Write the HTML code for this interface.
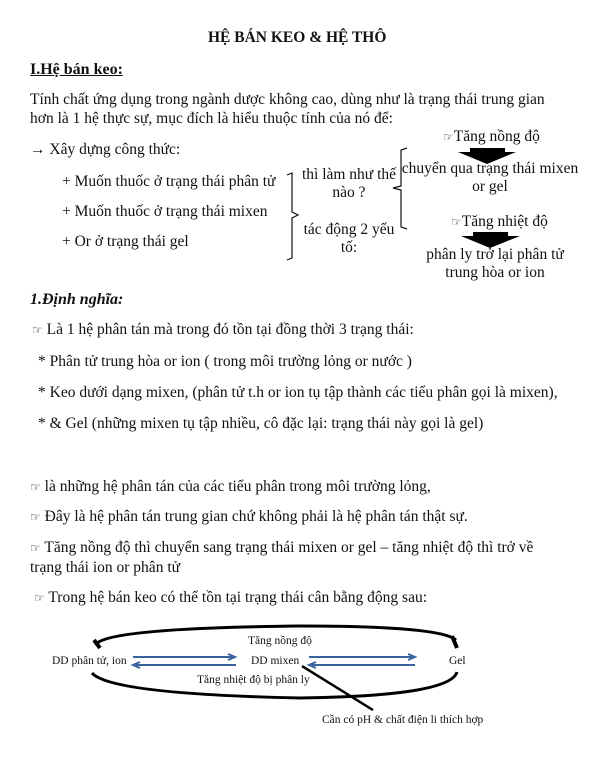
<!DOCTYPE html>
<html><head><meta charset="utf-8"><style>
body{margin:0;background:#fff;}
#p{position:relative;width:600px;height:776px;overflow:hidden;font-family:"Liberation Serif",serif;font-size:15.5px;color:#111;}
#p div{position:absolute;white-space:nowrap;line-height:18px;}
.h{font-family:"DejaVu Sans",sans-serif;font-size:12px;}
.c{text-align:center;}
.s{font-size:11.5px;}
</style></head><body><div id="p">
<div style="left:208px;top:29px;font-weight:bold;font-size:15.5px">HỆ BÁN KEO &amp; HỆ THÔ</div>
<div style="left:30px;top:61px;font-weight:bold;text-decoration:underline;font-size:16px">I.Hệ bán keo:</div>
<div style="left:30px;top:91px">Tính chất ứng dụng trong ngành dược không cao, dùng như là trạng thái trung gian</div>
<div style="left:30px;top:110px">hơn là 1 hệ thực sự, mục đích là hiểu thuộc tính của nó để:</div>
<div style="left:30px;top:141px">→ Xây dựng công thức:</div>
<div style="left:62px;top:173px">+ Muốn thuốc ở trạng thái phân tử</div>
<div style="left:62px;top:203px">+ Muốn thuốc ở trạng thái mixen</div>
<div style="left:62px;top:233px">+ Or ở trạng thái gel</div>
<div class="c" style="left:298px;top:166px;width:102px">thì làm như thế<br>nào ?</div>
<div class="c" style="left:298px;top:221px;width:102px">tác động 2 yếu<br>tố:</div>
<div style="left:443px;top:128px"><span class="h">☞</span>Tăng nồng độ</div>
<div class="c" style="left:398px;top:160px;width:184px">chuyển qua trạng thái mixen<br>or gel</div>
<div style="left:451px;top:213px"><span class="h">☞</span>Tăng nhiệt độ</div>
<div class="c" style="left:418px;top:246px;width:154px">phân ly trở lại phân tử<br>trung hòa or ion</div>
<svg style="position:absolute;left:0;top:0" width="600" height="776">
<path d="M287 175 L292 173 L292 212 L298 215 L292 218 L292 258 L287 260" fill="none" stroke="#111" stroke-width="1.2"/>
<path d="M407 148 L401 150 L401 186 L393 188 L401 190 L401 227 L407 229" fill="none" stroke="#111" stroke-width="1.2"/>
<polygon points="470,148 505,148 505,152 516,152 487,164 458,152 470,152" fill="#000"/>
<polygon points="473,232 508,232 508,236 520,236 490,248 461,236 473,236" fill="#000"/>
<path d="M96 644 Q110 628 300 626 Q440 626 456 640" fill="none" stroke="#000" stroke-width="3"/>
<path d="M94 640 L100 648" stroke="#000" stroke-width="4"/>
<path d="M452 636 L457 648" stroke="#000" stroke-width="4"/>
<path d="M92 673 Q110 694 300 698 Q450 696 457 672" fill="none" stroke="#000" stroke-width="3"/>
<g stroke="#3a62a0" stroke-width="2" fill="none">
<line x1="133" y1="657" x2="233" y2="657"/><polyline points="228,654 235,657 228,660"/>
<line x1="136" y1="665" x2="236" y2="665"/><polyline points="140,662 133,665 140,668"/>
<line x1="309" y1="657" x2="413" y2="657"/><polyline points="408,654 415,657 408,660"/>
<line x1="312" y1="665" x2="415" y2="665"/><polyline points="316,662 309,665 316,668"/>
</g>
<line x1="302" y1="666" x2="373" y2="710" stroke="#000" stroke-width="2.5"/>
</svg>
<div style="left:30px;top:291px;font-weight:bold;font-style:italic;font-size:16px">1.Định nghĩa:</div>
<div style="left:32px;top:321px"><span class="h">☞</span> Là 1 hệ phân tán mà trong đó tồn tại đồng thời 3 trạng thái:</div>
<div style="left:38px;top:353px">* Phân tử  trung hòa or ion ( trong môi trường lỏng or nước )</div>
<div style="left:38px;top:384px">* Keo dưới dạng mixen, (phân tử t.h or ion tụ tập thành các tiểu phân gọi là mixen),</div>
<div style="left:38px;top:415px">* &amp; Gel (những mixen tụ tập nhiều, cô đặc lại: trạng thái này gọi là gel)</div>
<div style="left:30px;top:478px"><span class="h">☞</span> là những hệ phân tán của các tiểu phân trong môi trường lỏng,</div>
<div style="left:30px;top:508px"><span class="h">☞</span> Đây là hệ phân tán trung gian chứ không phải là hệ phân tán thật sự.</div>
<div style="left:30px;top:539px"><span class="h">☞</span> Tăng nồng độ thì chuyển sang trạng thái mixen or gel – tăng nhiệt độ thì trở về</div>
<div style="left:30px;top:559px">trạng thái ion or phân tử</div>
<div style="left:34px;top:589px"><span class="h">☞</span> Trong  hệ bán keo có thể tồn tại trạng thái cân bằng động sau:</div>
<div class="s" style="left:248px;top:632px">Tăng nồng độ</div>
<div class="s" style="left:52px;top:652px">DD phân tử, ion</div>
<div class="s" style="left:251px;top:652px">DD mixen</div>
<div class="s" style="left:449px;top:652px">Gel</div>
<div class="s" style="left:197px;top:671px">Tăng nhiệt độ bị phân ly</div>
<div class="s" style="left:322px;top:711px">Cần có  pH &amp; chất điện li thích hợp</div>
</div></body></html>
